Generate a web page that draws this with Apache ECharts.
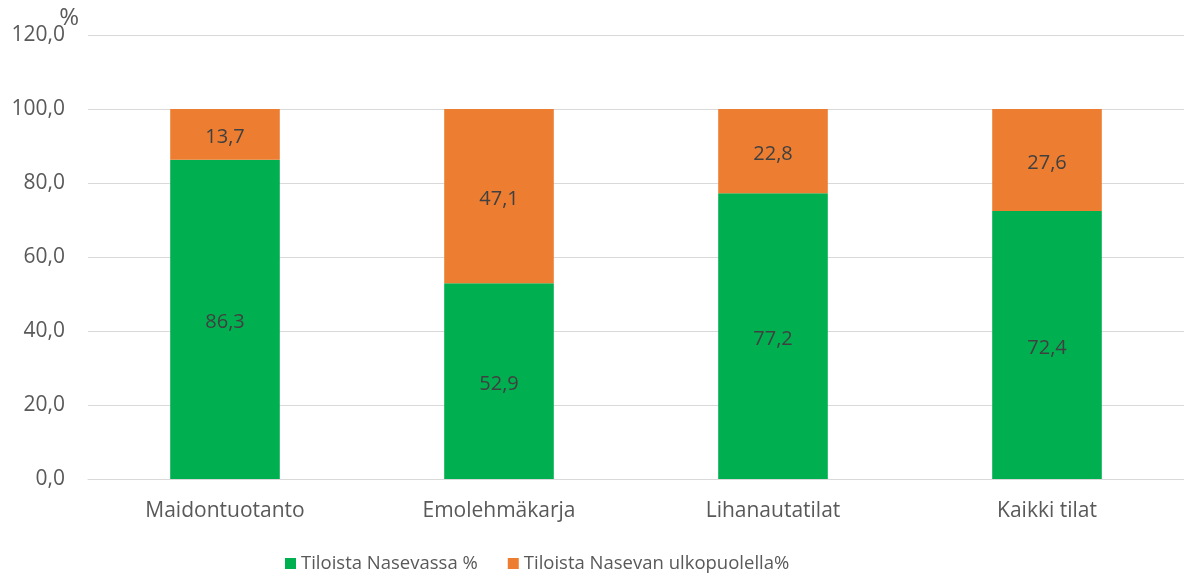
<!DOCTYPE html>
<html><head><meta charset="utf-8">
<script src="https://cdn.jsdelivr.net/npm/echarts@6/dist/echarts.min.js"></script>
<style>html,body{margin:0;padding:0;background:#fff}#c{width:1184px;height:578px}</style>
</head><body><div id="c"></div>
<script>
const categories = ['Maidontuotanto', 'Emolehmäkarja', 'Lihanautatilat', 'Kaikki tilat'];
const inside = [86.3, 52.9, 77.2, 72.4];
const outside = [13.7, 47.1, 22.8, 27.6];
const seriesNames = ['Tiloista Nasevassa %', 'Tiloista Nasevan ulkopuolella%'];
const yTicks = { min: 0, max: 120, interval: 20 };

const fmt = v => v.toFixed(1).replace('.', ',');
const font = '"Open Sans", "Noto Sans", sans-serif';
const chart = echarts.init(document.getElementById('c'), null, { renderer: 'canvas' });
const labelStyle = { show: true, position: 'inside', offset: [0, 3], color: '#404040', fontSize: 20, fontFamily: font, formatter: p => fmt(p.value) };
chart.setOption({
  animation: false,
  textStyle: { fontFamily: font },
  grid: { left: 88, right: 0, top: 35, bottom: 99, containLabel: false },
  legend: {
    bottom: 0, left: 280, itemWidth: 11, itemHeight: 11, itemGap: 30,
    icon: 'rect',
    textStyle: { color: '#595959', fontSize: 18.5, fontFamily: font },
    data: seriesNames
  },
  xAxis: {
    type: 'category', data: categories,
    axisLine: { show: true, lineStyle: { color: '#d9d9d9', width: 1 } },
    axisTick: { show: false },
    axisLabel: { color: '#595959', fontSize: 21, margin: 22, fontFamily: font }
  },
  yAxis: {
    type: 'value', min: yTicks.min, max: yTicks.max, interval: yTicks.interval,
    name: '%', nameLocation: 'end', nameGap: 17, nameMoveOverlap: false,
    nameTextStyle: { color: '#595959', fontSize: 24, align: 'right', verticalAlign: 'middle', padding: [0, 9, 0, 0], fontFamily: font },
    axisLine: { show: false }, axisTick: { show: false },
    splitLine: { lineStyle: { color: '#d9d9d9', width: 1 } },
    axisLabel: { color: '#595959', fontSize: 21, margin: 23, formatter: v => fmt(v), fontFamily: font }
  },
  series: [
    { name: seriesNames[0], type: 'bar', stack: 'a', data: inside, barWidth: '40%',
      itemStyle: { color: '#00B050' }, label: labelStyle },
    { name: seriesNames[1], type: 'bar', stack: 'a', data: outside, barWidth: '40%',
      itemStyle: { color: '#ED7D31' }, label: labelStyle }
  ]
});
</script></body></html>
